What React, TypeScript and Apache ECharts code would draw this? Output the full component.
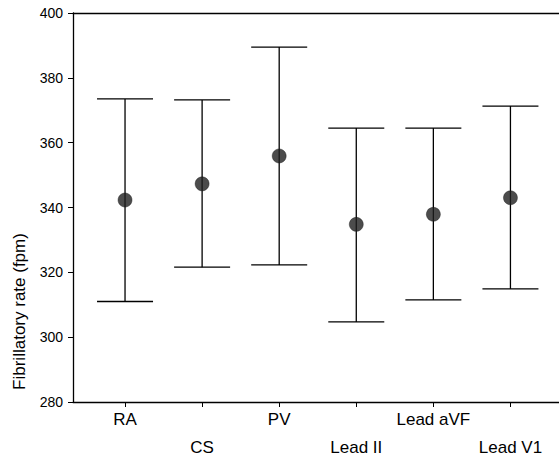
import React, { useEffect, useRef } from "react";
import * as echarts from "echarts";

const categories = ["RA", "CS", "PV", "Lead II", "Lead aVF", "Lead V1"];
const means = [342.3, 347.3, 355.9, 334.8, 337.9, 343.0];
const upper = [373.5, 373.2, 389.5, 364.5, 364.5, 371.3];
const lower = [311.0, 321.6, 322.3, 304.7, 311.5, 314.9];
const yTicks = [280, 300, 320, 340, 360, 380, 400];
const yTitle = "Fibrillatory rate (fpm)";

export default function App() {
  const ref = useRef<HTMLDivElement>(null);
  useEffect(() => {
    if (!ref.current) return;
    const chart = echarts.init(ref.current, null, { renderer: "svg" });
    const idx = categories.map((_, i) => i);
    const font = "'Liberation Sans', Arial, sans-serif";
    chart.setOption({
      animation: false,
      grid: { left: 73, right: 0, top: 13, bottom: 56, containLabel: false, outerBoundsMode: "none" },
      xAxis: [
        {
          type: "value",
          min: -0.675,
          max: 5.63,
          splitLine: { show: false },
          axisLine: { show: true, onZero: false, lineStyle: { color: "#000", width: 1.3 } },
          axisTick: { show: true, customValues: idx, length: 5, lineStyle: { color: "#000", width: 1 } },
          axisLabel: {
            show: true,
            customValues: idx,
            margin: 3,
            color: "#000",
            fontFamily: font,
            fontSize: 17,
            lineHeight: 28,
            formatter: (v: number) => {
              const i = Math.round(v);
              const name = categories[i] ?? "";
              return i % 2 === 1 ? "\n" + name : name;
            },
          },
        },
        {
          type: "value",
          position: "top",
          min: -0.675,
          max: 5.63,
          splitLine: { show: false },
          axisLine: { show: true, onZero: false, lineStyle: { color: "#000", width: 1.3 } },
          axisTick: { show: false },
          axisLabel: { show: false },
        },
      ],
      yAxis: {
        type: "value",
        min: 280,
        max: 400,
        interval: 20,
        name: yTitle,
        nameLocation: "middle",
        nameRotate: 90,
        nameGap: 45,
        nameTextStyle: {
          color: "#000",
          fontFamily: font,
          fontSize: 17,
          padding: [0, 208, 0, 0],
        },
        splitLine: { show: false },
        axisLine: { show: true, onZero: false, lineStyle: { color: "#000", width: 1.3 } },
        axisTick: { show: true, length: 5, lineStyle: { color: "#000", width: 1 } },
        axisLabel: {
          margin: 10,
          color: "#000",
          fontFamily: font,
          fontSize: 14,
          customValues: yTicks,
        },
      },
      series: [
        {
          type: "custom",
          data: idx.map((i) => [i, lower[i], upper[i]]),
          renderItem: (params: any, api: any) => {
            const x = api.value(0);
            const lo = api.coord([x, api.value(1)]);
            const hi = api.coord([x, api.value(2)]);
            const hw = 28;
            const st = { stroke: "#000", lineWidth: 1.3 };
            return {
              type: "group",
              children: [
                { type: "line", shape: { x1: lo[0], y1: lo[1], x2: hi[0], y2: hi[1] }, style: st },
                { type: "line", shape: { x1: hi[0] - hw, y1: hi[1], x2: hi[0] + hw, y2: hi[1] }, style: st },
                { type: "line", shape: { x1: lo[0] - hw, y1: lo[1], x2: lo[0] + hw, y2: lo[1] }, style: st },
              ],
            };
          },
          z: 2,
        },
        {
          type: "scatter",
          data: idx.map((i) => [i, means[i]]),
          symbol: "circle",
          symbolSize: 14,
          itemStyle: { color: "#1f1f1f", borderColor: "#111", borderWidth: 0.5 },
          z: 3,
        },
      ],
    });
    return () => chart.dispose();
  }, []);
  return <div ref={ref} style={{ width: 559, height: 458, position: "absolute", left: 0, top: 0 }} />;
}
